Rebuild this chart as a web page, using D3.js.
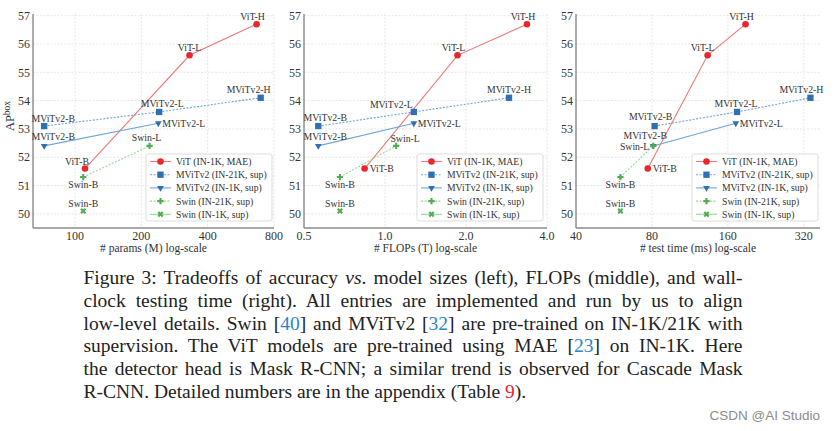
<!DOCTYPE html>
<html lang="en">
<meta charset="UTF-8">
<title>Figure 3 tradeoffs</title>
<script src="https://d3js.org/d3.v7.min.js"></script>
<style>
  body { margin: 0; background: #fff; }
  svg text { font-family: "Liberation Serif", "DejaVu Serif", serif; }
</style>
<body>
<svg id="fig" width="836" height="431"></svg>
<script>
// --- data (AP box vs params / FLOPs / test time) ---
var vitNames = ["ViT-B", "ViT-L", "ViT-H"];
var vitAP = [51.6, 55.6, 56.7];
var vitParams = [111, 331, 667];
var vitFlops = [0.84, 1.86, 3.37];
var vitTime = [77, 133, 188];

var mvit21kNames = ["MViTv2-B", "MViTv2-L", "MViTv2-H"];
var mvit21kAP = [53.1, 53.6, 54.1];
var mvit21kParams = [72.5, 241, 696];
var mvit21kFlops = [0.565, 1.28, 2.89];
var mvit21kTime = [82, 174, 340];

var mvit1kNames = ["MViTv2-B", "MViTv2-L"];
var mvit1kAP = [52.4, 53.2];
var mvit1kParams = [72.5, 239];
var mvit1kFlops = [0.565, 1.28];
var mvit1kTime = [81, 172];

var swin21kNames = ["Swin-B", "Swin-L"];
var swin21kAP = [51.3, 52.4];
var swin21kParams = [109, 218];
var swin21kFlops = [0.68, 1.10];
var swin21kTime = [60, 81];

var swin1kNames = ["Swin-B"];
var swin1kAP = [50.1];
var swin1kParams = [109];
var swin1kFlops = [0.68];
var swin1kTime = [60];

var legendNames = ["ViT (IN-1K, MAE)", "MViTv2 (IN-21K, sup)", "MViTv2 (IN-1K, sup)", "Swin (IN-21K, sup)", "Swin (IN-1K, sup)"];
var yTicks = [50, 51, 52, 53, 54, 55, 56, 57];
var paramTicks = [100, 200, 400, 800];
var flopTicks = [0.5, 1.0, 2.0, 4.0];
var timeTicks = [40, 80, 160, 320];

var svg = d3.select("#fig");

var styles = [
  {color: "#e8262b", line: "#f07878", dash: null, sym: d3.symbolCircle, size: 34, rot: 0},
  {color: "#2f6fb3", line: "#6fa3d8", dash: "2,1.5", sym: d3.symbolSquare, size: 40, rot: 0},
  {color: "#2f6fb3", line: "#6fa3d8", dash: null, sym: d3.symbolTriangle, size: 20, rot: 180},
  {color: "#4fae4f", line: "#98d698", dash: "2,1.5", sym: d3.symbolCross, size: 22, rot: 0},
  {color: "#4fae4f", line: "#98d698", dash: null, sym: d3.symbolCross, size: 22, rot: 45}
];

// label offsets per panel: [dx, dy, anchor] for each point of each series
var panels = [
  {
    x0: 33, x1: 274, domain: [64.5, 800], ticks: paramTicks, fmt: d3.format("d"),
    xs: [vitParams, mvit21kParams, mvit1kParams, swin21kParams, swin1kParams],
    title: "# params (M) log-scale", legendX: 146, ylab: true,
    place: [
      [[-8, -7, "middle"], [0, -8, "middle"], [-4, -8, "middle"]],
      [[9, -8, "middle"], [3, -8, "middle"], [-12, -8, "middle"]],
      [[9, -9, "middle"], [4, 0, "start"]],
      [[0, 7, "middle"], [-3, -8, "middle"]],
      [[0, -8, "middle"]]
    ]
  },
  {
    x0: 304, x1: 547, domain: [0.5, 4.0], ticks: flopTicks, fmt: d3.format(".1f"),
    xs: [vitFlops, mvit21kFlops, mvit1kFlops, swin21kFlops, swin1kFlops],
    title: "# FLOPs (T) log-scale", legendX: 417, ylab: false,
    place: [
      [[5, 0, "start"], [-4, -8, "middle"], [-4, -8, "middle"]],
      [[7, -9, "middle"], [-1, -7, "end"], [0, -8, "middle"]],
      [[7, -9, "middle"], [4, 0, "start"]],
      [[0, 7, "middle"], [9, -7, "middle"]],
      [[0, -8, "middle"]]
    ]
  },
  {
    x0: 576, x1: 820, domain: [40, 371], ticks: timeTicks, fmt: d3.format("d"),
    xs: [vitTime, mvit21kTime, mvit1kTime, swin21kTime, swin1kTime],
    title: "# test time (ms) log-scale", legendX: 692, ylab: false,
    place: [
      [[5, 0, "start"], [-5, -8, "middle"], [-4, -8, "middle"]],
      [[-4, -10, "middle"], [-1, -8, "middle"], [-9, -8, "middle"]],
      [[-8, -10, "middle"], [4, 0, "start"]],
      [[0, 7, "middle"], [-4, 1, "end"]],
      [[0, -8, "middle"]]
    ]
  }
];

var aps = [vitAP, mvit21kAP, mvit1kAP, swin21kAP, swin1kAP];
var names = [vitNames, mvit21kNames, mvit1kNames, swin21kNames, swin1kNames];

var y = d3.scaleLinear().domain([49.5, 57.06]).range([228, 14]);

function marker(g, st, cx, cy) {
  g.append("path")
    .attr("d", d3.symbol().type(st.sym).size(st.size))
    .attr("transform", "translate(" + cx + "," + cy + ") rotate(" + st.rot + ")")
    .attr("fill", st.color);
}

panels.forEach(function(p) {
  var x = d3.scaleLog().domain(p.domain).range([p.x0, p.x1]);
  var g = svg.append("g");

  // grid
  g.selectAll(".gy").data(yTicks).enter().append("line")
    .attr("x1", p.x0).attr("x2", p.x1)
    .attr("y1", function(d) { return y(d); }).attr("y2", function(d) { return y(d); })
    .attr("stroke", "#e0e0e0").attr("stroke-width", 0.8).attr("stroke-dasharray", "2,1.5");
  g.selectAll(".gx").data(p.ticks).enter().append("line")
    .attr("x1", function(d) { return x(d); }).attr("x2", function(d) { return x(d); })
    .attr("y1", 14).attr("y2", 228)
    .attr("stroke", "#e0e0e0").attr("stroke-width", 0.8).attr("stroke-dasharray", "2,1.5");

  // spines
  g.append("line").attr("x1", p.x0).attr("x2", p.x0).attr("y1", 14).attr("y2", 228)
    .attr("stroke", "#8a8a8a").attr("stroke-width", 1.4);
  g.append("line").attr("x1", p.x0).attr("x2", p.x1).attr("y1", 228).attr("y2", 228)
    .attr("stroke", "#8a8a8a").attr("stroke-width", 1.4);

  // tick labels
  g.selectAll(".ty").data(yTicks).enter().append("text")
    .attr("x", p.x0 - 3).attr("y", function(d) { return y(d); })
    .attr("dy", "0.35em").attr("text-anchor", "end")
    .attr("font-size", 12).attr("fill", "#333")
    .text(function(d) { return d; });
  g.selectAll(".tx").data(p.ticks).enter().append("text")
    .attr("x", function(d) { return x(d); }).attr("y", 240)
    .attr("text-anchor", "middle")
    .attr("font-size", 12).attr("fill", "#333")
    .text(function(d) { return p.fmt(d); });

  g.append("text")
    .attr("x", (p.x0 + p.x1) / 2).attr("y", 252)
    .attr("text-anchor", "middle").attr("font-size", 11.5).attr("fill", "#333")
    .text(p.title);

  // series
  aps.forEach(function(ap, si) {
    var st = styles[si];
    var pts = ap.map(function(v, i) { return [x(p.xs[si][i]), y(v)]; });
    if (pts.length > 1) {
      g.append("path")
        .attr("d", d3.line()(pts))
        .attr("fill", "none").attr("stroke", st.line).attr("stroke-width", 1.1)
        .attr("stroke-dasharray", st.dash);
    }
    pts.forEach(function(pt, i) {
      marker(g, st, pt[0], pt[1]);
      var pl = p.place[si][i];
      g.append("text")
        .attr("x", pt[0] + pl[0]).attr("y", pt[1] + pl[1])
        .attr("dominant-baseline", "central").attr("text-anchor", pl[2])
        .attr("font-size", 9.8).attr("fill", "#333")
        .text(names[si][i]);
    });
  });

  // legend
  var lx = p.legendX, ly = 154;
  var lg = g.append("g");
  lg.append("rect").attr("x", lx).attr("y", ly).attr("width", 126).attr("height", 67)
    .attr("rx", 2).attr("fill", "#fff").attr("fill-opacity", 0.85)
    .attr("stroke", "#d4d4d4").attr("stroke-width", 0.8);
  legendNames.forEach(function(n, i) {
    var st = styles[i];
    var yy = ly + 7.5 + i * 13.2;
    lg.append("line").attr("x1", lx + 4).attr("x2", lx + 25).attr("y1", yy).attr("y2", yy)
      .attr("stroke", st.line).attr("stroke-width", 1.1).attr("stroke-dasharray", st.dash);
    marker(lg, st, lx + 14.5, yy);
    lg.append("text").attr("x", lx + 30).attr("y", yy)
      .attr("dominant-baseline", "central").attr("font-size", 9.7).attr("fill", "#333")
      .text(n);
  });

  if (p.ylab) {
    var t = g.append("text")
      .attr("transform", "translate(14,116) rotate(-90)")
      .attr("text-anchor", "middle").attr("font-size", 12.5).attr("fill", "#333");
    t.append("tspan").text("AP");
    t.append("tspan").attr("font-size", 9.5).attr("dy", -4.5).text("box");
  }
});

// caption, justified lines
var capLines = [
  [["Figure 3: Tradeoffs of accuracy "], ["vs", "i"], [". model sizes (left), FLOPs (middle), and wall-"]],
  [["clock testing time (right). All entries are implemented and run by us to align"]],
  [["low-level details. Swin ["], ["40", "b"], ["] and MViTv2 ["], ["32", "b"], ["] are pre-trained on IN-1K/21K with"]],
  [["supervision. The ViT models are pre-trained using MAE ["], ["23", "b"], ["] on IN-1K. Here"]],
  [["the detector head is Mask R-CNN; a similar trend is observed for Cascade Mask"]],
  [["R-CNN. Detailed numbers are in the appendix (Table "], ["9", "r"], [")."]]
];
var capX0 = 83.5, capX1 = 742.5, capY0 = 284, capStep = 22.8;
capLines.forEach(function(parts, li) {
  var t = svg.append("text")
    .attr("x", capX0).attr("y", capY0 + li * capStep)
    .attr("font-size", 19.5).attr("fill", "#222")
    .style("white-space", "pre");
  parts.forEach(function(pt) {
    var s = t.append("tspan").text(pt[0]);
    if (pt[1] === "i") s.attr("font-style", "italic");
    if (pt[1] === "b") s.attr("fill", "#2b84c6");
    if (pt[1] === "r") s.attr("fill", "#e8262b");
  });
  if (li < capLines.length - 1) {
    var full = parts.map(function(pt) { return pt[0]; }).join("");
    var spaces = full.split(" ").length - 1;
    var w = t.node().getComputedTextLength();
    t.style("word-spacing", ((capX1 - capX0 - w) / spaces) + "px");
  }
});

svg.append("text")
  .attr("x", 820).attr("y", 420).attr("text-anchor", "end")
  .style("font-family", "'Liberation Sans', Arial, sans-serif")
  .attr("font-size", 13.5).attr("fill", "#8c8c8c")
  .text("CSDN @AI Studio");
</script>
</body>
</html>
